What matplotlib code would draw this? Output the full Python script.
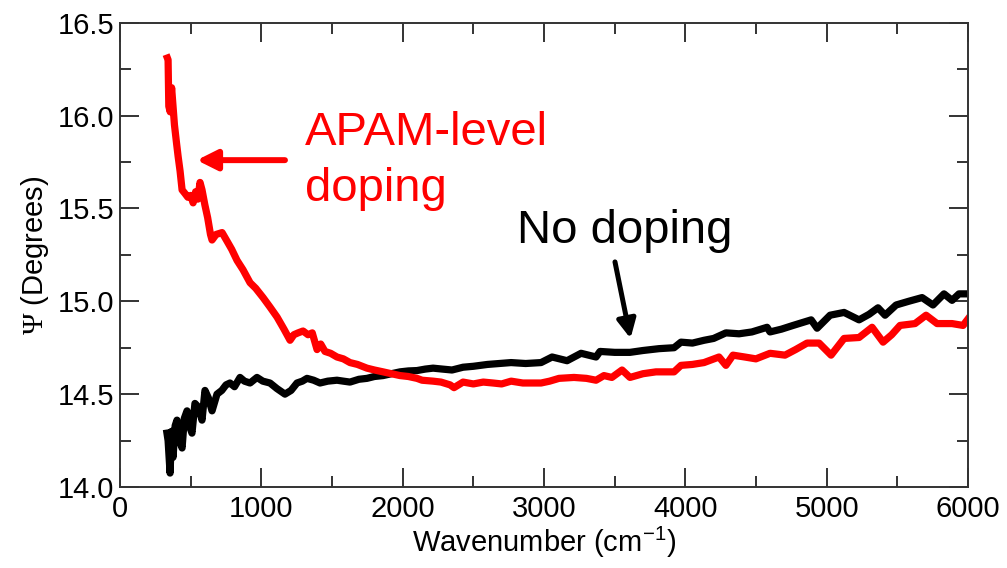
import matplotlib
matplotlib.use('Agg')
from matplotlib import pyplot as plt
from matplotlib.ticker import MultipleLocator

# APAM-level doping (red)
red_x = [335, 340, 345, 355, 365, 375, 385, 400, 411, 425, 439, 460, 480, 500,
         517, 535, 550, 566, 580, 600, 620, 640, 651, 680, 722, 760, 790, 828,
         870, 920, 960, 1012, 1060, 1111, 1160, 1203, 1230, 1260, 1295, 1330,
         1360, 1394, 1420, 1450, 1490, 1535, 1580, 1627, 1680, 1747, 1800, 1861,
         1920, 1981, 2040, 2101, 2137, 2215, 2271, 2335, 2363, 2427, 2500, 2570,
         2639, 2700, 2767, 2850, 2979, 3040, 3106, 3212, 3300, 3368, 3424, 3480,
         3552, 3608, 3700, 3792, 3920, 3969, 4050, 4132, 4238, 4287, 4337, 4420,
         4499, 4599, 4705, 4780, 4861, 4946, 5031, 5123, 5229, 5321, 5399, 5460,
         5519, 5625, 5703, 5781, 5887, 5965, 6000]
red_y = [16.31, 16.30, 16.05, 16.02, 16.15, 16.05, 15.95, 15.85, 15.78, 15.70,
         15.60, 15.58, 15.56, 15.57, 15.53, 15.59, 15.55, 15.64, 15.60, 15.52,
         15.45, 15.36, 15.33, 15.36, 15.37, 15.32, 15.28, 15.22, 15.17, 15.10,
         15.07, 15.02, 14.97, 14.915, 14.85, 14.79, 14.82, 14.83, 14.84, 14.82,
         14.83, 14.74, 14.77, 14.73, 14.72, 14.70, 14.69, 14.67, 14.66, 14.64,
         14.63, 14.62, 14.61, 14.60, 14.595, 14.585, 14.575, 14.57, 14.565,
         14.55, 14.535, 14.565, 14.555, 14.565, 14.56, 14.555, 14.57, 14.56,
         14.56, 14.57, 14.585, 14.59, 14.585, 14.575, 14.60, 14.59, 14.63, 14.59,
         14.61, 14.62, 14.62, 14.655, 14.66, 14.67, 14.70, 14.655, 14.71, 14.70,
         14.69, 14.72, 14.71, 14.74, 14.775, 14.775, 14.71, 14.80, 14.805, 14.86,
         14.78, 14.82, 14.87, 14.88, 14.925, 14.88, 14.88, 14.87, 14.905]

# No doping (black)
black_x = [332, 340, 354, 365, 375, 390, 403, 420, 439, 455, 474, 490, 509,
           530, 555, 580, 601, 625, 651, 686, 720, 750, 778, 810, 849, 880, 920,
           969, 1010, 1061, 1110, 1167, 1210, 1252, 1290, 1323, 1370, 1415, 1470,
           1535, 1580, 1627, 1690, 1747, 1800, 1861, 1920, 1981, 2040, 2101, 2160,
           2215, 2280, 2349, 2427, 2500, 2600, 2767, 2870, 2979, 3057, 3163, 3262,
           3368, 3396, 3500, 3608, 3700, 3814, 3920, 3969, 4050, 4132, 4200, 4287,
           4380, 4471, 4578, 4599, 4680, 4762, 4890, 4932, 5024, 5123, 5229, 5300,
           5363, 5413, 5491, 5580, 5675, 5752, 5830, 5887, 5936, 6000]
black_y = [14.29, 14.25, 14.075, 14.30, 14.16, 14.33, 14.36, 14.25, 14.21,
           14.37, 14.41, 14.33, 14.29, 14.45, 14.43, 14.36, 14.52, 14.48, 14.41,
           14.50, 14.52, 14.55, 14.56, 14.54, 14.59, 14.57, 14.56, 14.59, 14.57,
           14.56, 14.53, 14.50, 14.52, 14.56, 14.57, 14.585, 14.575, 14.56, 14.57,
           14.575, 14.57, 14.565, 14.58, 14.585, 14.595, 14.60, 14.61, 14.62,
           14.625, 14.627, 14.635, 14.64, 14.635, 14.63, 14.645, 14.65, 14.66,
           14.67, 14.665, 14.67, 14.70, 14.68, 14.72, 14.70, 14.73, 14.725,
           14.725, 14.735, 14.745, 14.75, 14.78, 14.775, 14.79, 14.80, 14.83,
           14.825, 14.835, 14.86, 14.835, 14.85, 14.87, 14.90, 14.855, 14.925,
           14.94, 14.90, 14.93, 14.965, 14.925, 14.98, 15.0, 15.02, 14.98, 15.04,
           15.005, 15.04, 15.04]

plt.rcParams['font.family'] = ['Liberation Sans', 'DejaVu Sans']
plt.rcParams['mathtext.fontset'] = 'custom'
plt.rcParams['mathtext.rm'] = 'Liberation Serif'
plt.rcParams['mathtext.sf'] = 'Liberation Sans'

fig = plt.figure(figsize=(10.07, 5.68), dpi=100)
ax = fig.add_axes([0.1192, 0.1426, 0.9613 - 0.1192, 0.960 - 0.1426])

ax.plot(black_x, black_y, color='black', lw=5.2, solid_joinstyle='round')
ax.plot(red_x, red_y, color='#ff0000', lw=5.2, solid_joinstyle='round')

ax.set_xlim(0, 6000)
ax.set_ylim(14.0, 16.5)
ax.xaxis.set_major_locator(MultipleLocator(1000))
ax.xaxis.set_minor_locator(MultipleLocator(500))
ax.yaxis.set_major_locator(MultipleLocator(0.5))
ax.yaxis.set_minor_locator(MultipleLocator(0.25))
ax.yaxis.set_major_formatter(matplotlib.ticker.FormatStrFormatter('%.1f'))

ax.tick_params(which='both', direction='in', top=True, right=True,
               width=1.4, color='#333333', labelsize=21)
ax.tick_params(which='major', length=14)
ax.tick_params(which='minor', length=8)
ax.tick_params(axis='x', pad=6)
ax.tick_params(axis='y', pad=4)
for s in ax.spines.values():
    s.set_linewidth(1.4)
    s.set_color('#333333')

ax.set_xlabel(r'Wavenumber (cm$^{\mathsf{-1}}$)', fontsize=21, labelpad=1)
ax.set_ylabel(r'$\mathrm{\Psi}$ (Degrees)', fontsize=21, labelpad=5)

# labels and arrows
ax.text(1309, 15.841, 'APAM-level', color='#ff0000', fontsize=34,
        ha='left', va='baseline')
ax.text(1309, 15.539, 'doping', color='#ff0000', fontsize=34,
        ha='left', va='baseline')
ax.text(2809, 15.313, 'No doping', color='black', fontsize=34,
        ha='left', va='baseline')

ax.annotate('', xy=(543, 15.76), xytext=(1167, 15.76),
            arrowprops=dict(arrowstyle='-|>', color='#ff0000', lw=4.3,
                            mutation_scale=30, shrinkA=0, shrinkB=0))
ax.annotate('', xy=(3612, 14.80), xytext=(3502, 15.212),
            arrowprops=dict(arrowstyle='-|>', color='black', lw=3.6,
                            mutation_scale=28, shrinkA=0, shrinkB=0))

fig.savefig('out.png', dpi=100)
